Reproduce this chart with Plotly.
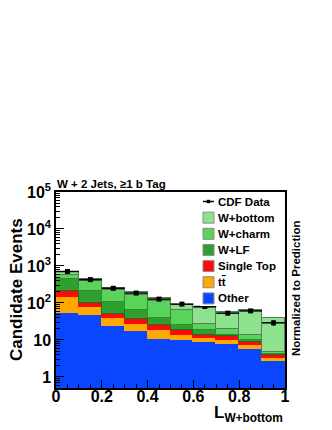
import plotly.graph_objects as go

# bins of L_{W+bottom}
bin_centers = [0.05, 0.15, 0.25, 0.35, 0.45, 0.55, 0.65, 0.75, 0.85, 0.95]

# stacked predictions (events per bin), bottom to top
other = [55, 46, 23.7, 17, 10.7, 10.0, 8.8, 7.8, 5.8, 2.7]
ttbar = [86, 32, 16.3, 10.5, 7.3, 4.0, 2.6, 2.0, 1.4, 0.54]
single_top = [65, 19, 9.5, 8.5, 6.7, 4.4, 2.6, 2.6, 1.8, 0.76]
w_lf = [241, 113, 53.5, 27.6, 15.3, 6.3, 4.0, 1.6, 1.2, 0.25]
w_charm = [128, 184, 121, 103, 74, 40, 8.5, 6.0, 3.3, 0.45]
w_bottom = [106, 53, 29, 27, 21, 25, 48.5, 38, 50, 34.3]

# CDF data
data_counts = [708, 427, 249, 185, 127, 93, 80, 53, 61, 29]
data_errors = [27, 21, 16, 14, 11, 10, 9, 7, 8, 5]

components = [
    ("Other", other, "#0A46FF", "#0A46FF"),
    ("t<span style='text-decoration:overline'>t</span>", ttbar, "#FFA800", "#FFA800"),
    ("Single Top", single_top, "#FF0A0A", "#FF0A0A"),
    ("W+LF", w_lf, "#2FA02F", "#1F6E1F"),
    ("W+charm", w_charm, "#5AD35A", "#2F8F2F"),
    ("W+bottom", w_bottom, "#8DE38D", "#5E7A5E"),
]

FONT = "Liberation Sans, Arial, Helvetica, sans-serif"

# plot area in pixels
L, R, T, B = 56, 285, 192, 388


def px(x):
    return (x - L) / (R - L)


def py(y):
    return (B - y) / (B - T)


fig = go.Figure()
for name, vals, fill, edge in components:
    fig.add_trace(go.Bar(
        x=bin_centers, y=vals, width=0.1, name=name,
        marker=dict(color=fill, line=dict(color=edge, width=1)),
        showlegend=False,
    ))

# data points with horizontal bin-width bars
fig.add_trace(go.Scatter(
    x=bin_centers, y=data_counts, mode="markers",
    marker=dict(color="black", size=5, symbol="square"),
    error_x=dict(type="constant", value=0.05, color="black", thickness=1.5, width=0),
    error_y=dict(type="data", array=data_errors, color="black", thickness=1.5, width=0),
    showlegend=False,
))

# minor ticks on the log axis
minor_y = [m * 10 ** e for e in range(-1, 5) for m in range(2, 10)]

fig.update_layout(
    width=332, height=430,
    paper_bgcolor="white", plot_bgcolor="white",
    margin=dict(l=L, r=332 - R, t=T, b=430 - B),
    font=dict(family=FONT, size=15, color="black", weight="bold"),
    barmode="stack", bargap=0,
    showlegend=False,
    xaxis=dict(
        range=[0, 1], dtick=0.2, tick0=0,
        ticks="inside", ticklen=8, tickwidth=1, tickcolor="black",
        minor=dict(dtick=0.05, ticks="inside", ticklen=4, tickcolor="black"),
        showline=True, linecolor="black", linewidth=1.5, mirror=True,
        showgrid=False, zeroline=False,
        tickfont=dict(size=16), ticklabelstandoff=-7,
    ),
    yaxis=dict(
        type="log", range=[-0.3, 5.0],
        tickvals=[1, 10, 100, 1e3, 1e4, 1e5],
        ticktext=["1", "10", "10<sup>2</sup>", "10<sup>3</sup>", "10<sup>4</sup>", "10<sup>5</sup>"],
        ticks="inside", ticklen=8, tickwidth=1, tickcolor="black",
        minor=dict(tickmode="array", tickvals=minor_y, ticks="inside", ticklen=4, tickcolor="black"),
        showline=True, linecolor="black", linewidth=1.5, mirror=True,
        showgrid=False, zeroline=False,
        tickfont=dict(size=16),
    ),
)

# hand-drawn legend
legend_x0, legend_x1, sw = 200, 285, 11
row_y = [201.5 + 16.15 * i for i in range(7)]
fig.add_shape(type="rect", xref="paper", yref="paper",
              x0=px(legend_x0), x1=px(legend_x1), y0=py(306), y1=py(T),
              fillcolor="white", line=dict(width=0), layer="above")
# CDF Data entry
fig.add_shape(type="line", xref="paper", yref="paper",
              x0=px(203), x1=px(214), y0=py(row_y[0]), y1=py(row_y[0]),
              line=dict(color="black", width=1.5), layer="above")
fig.add_shape(type="rect", xref="paper", yref="paper",
              x0=px(206.8), x1=px(210.2), y0=py(row_y[0] + 1.7), y1=py(row_y[0] - 1.7),
              fillcolor="black", line=dict(width=0), layer="above")
fig.add_annotation(x=px(216), y=py(row_y[0]), xref="paper", yref="paper",
                   text="CDF Data", showarrow=False, xanchor="left", yanchor="middle",
                   font=dict(size=11.5))
for i, (name, vals, fill, edge) in enumerate(reversed(components), start=1):
    yc = row_y[i]
    fig.add_shape(type="rect", xref="paper", yref="paper",
                  x0=px(203), x1=px(203 + sw), y0=py(yc + sw / 2), y1=py(yc - sw / 2),
                  fillcolor=fill, line=dict(color="#8a8a8a", width=1), layer="above")
    fig.add_annotation(x=px(216), y=py(yc), xref="paper", yref="paper",
                       text=name, showarrow=False, xanchor="left", yanchor="middle",
                       font=dict(size=11.5))

# titles
fig.add_annotation(x=px(55), y=py(184), xref="paper", yref="paper",
                   text="W + 2 Jets, \u22651 b Tag", showarrow=False,
                   xanchor="left", yanchor="middle", font=dict(size=11.5))
fig.add_annotation(x=px(16), y=py(290), xref="paper", yref="paper",
                   text="Candidate Events", showarrow=False, textangle=-90,
                   xanchor="center", yanchor="middle", font=dict(size=17))
fig.add_annotation(x=px(296), y=py(289), xref="paper", yref="paper",
                   text="Normalized to Prediction", showarrow=False, textangle=-90,
                   xanchor="center", yanchor="middle", font=dict(size=11.5))
fig.add_annotation(x=px(285), y=py(414), xref="paper", yref="paper",
                   text="L<sub>W+bottom</sub>", showarrow=False,
                   xanchor="right", yanchor="middle", font=dict(size=17))

# the page's default body margin would push the figure off by 8 px
fig.write_html("out.html", config={"displayModeBar": False},
               post_script="document.body.style.margin = '0';")
